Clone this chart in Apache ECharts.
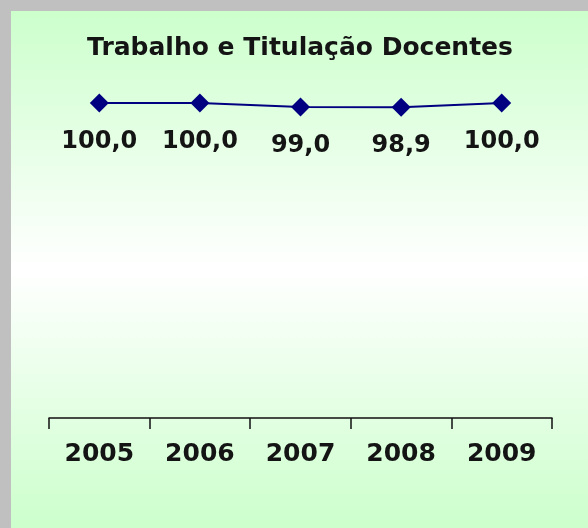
<!DOCTYPE html>
<html><head><meta charset="utf-8">
<script src="https://cdn.jsdelivr.net/npm/echarts@6/dist/echarts.min.js"></script>
<style>html,body{margin:0;padding:0;background:#c0c0c0}#c{width:588px;height:528px}</style>
</head><body><div id="c"></div>
<script>
const categories = ['2005', '2006', '2007', '2008', '2009'];
const values = [100.0, 100.0, 99.0, 98.9, 100.0];
const titleText = 'Trabalho e Titulação Docentes';

const chart = echarts.init(document.getElementById('c'));
chart.setOption({
  animation: false,
  backgroundColor: '#c0c0c0',
  graphic: [{
    type: 'rect', z: -10, silent: true,
    shape: { x: 11, y: 11, width: 577, height: 517 },
    style: { fill: new echarts.graphic.LinearGradient(0, 0, 0, 1, [
      { offset: 0, color: '#ccffcc' },
      { offset: 0.5, color: '#ffffff' },
      { offset: 1, color: '#ccffcc' }
    ]) }
  }],
  title: {
    text: titleText, left: 295, top: 31, textAlign: 'center',
    textStyle: { fontFamily: 'DejaVu Sans', fontWeight: 'bold', fontSize: 25, color: '#141414' }
  },
  grid: { left: 49, right: 36, top: 103, bottom: 110 },
  xAxis: {
    type: 'category', data: categories, boundaryGap: true,
    axisLine: { lineStyle: { color: '#111', width: 1.5 } },
    axisTick: { show: true, length: 11, lineStyle: { color: '#111', width: 1.5 } },
    axisLabel: { margin: 24, fontFamily: 'DejaVu Sans', fontWeight: 'bold', fontSize: 25, color: '#141414' }
  },
  yAxis: { type: 'value', min: 20, max: 100, show: false, splitLine: { show: false } },
  series: [{
    type: 'line', data: values,
    symbol: 'diamond', symbolSize: 19,
    lineStyle: { color: '#000080', width: 2 },
    itemStyle: { color: '#000080' },
    label: {
      show: true, position: 'bottom', distance: 17,
      fontFamily: 'DejaVu Sans', fontWeight: 'bold', fontSize: 24, color: '#141414',
      formatter: p => p.value.toFixed(1).replace('.', ',')
    }
  }]
});
</script></body></html>
